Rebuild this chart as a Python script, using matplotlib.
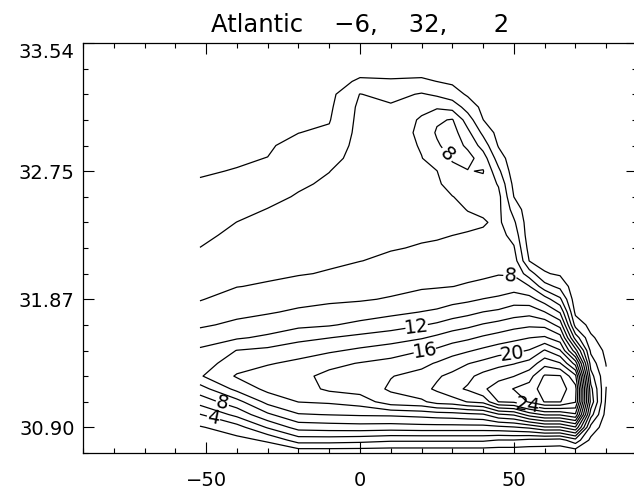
import matplotlib
matplotlib.use("Agg")
import numpy as np
import matplotlib.pyplot as plt
from matplotlib.ticker import FixedLocator, MultipleLocator


# ---------------------------------------------------------------------
# Data
# ---------------------------------------------------------------------

# longitude of each column of the section
lon = [-52, -40, -30, -20, -10, 0, 10, 20, 25, 30, 35, 40, 45, 50, 55, 60, 65, 70, 75, 80]

# row position on the stretched density axis (bottom -> top)
row = [0, 0.5, 1, 1.5, 2, 2.5, 3, 3.5, 4, 4.5, 5, 5.5, 6, 6.5, 7, 7.5, 8,
       8.5, 9, 9.5, 10, 10.5, 11, 11.5, 12, 12.5, 13, 13.5, 14, 14.5, 15, 15.5, 16]

sigma_tick_rows = [1, 6, 11, 16]
sigma_tick_labels = ["30.90", "31.87", "32.75", "33.54"]

# field values per longitude column, bottom -> top
z_m52 = [0.5, 1.1, 1.8, 3.9, 6.8, 9.1, 11.8, 11.0, 10.3, 9.0, 7.7, 6.7, 5.9, 5.4, 4.9, 4.5, 4.02,
         3.6, 3.2, 2.9, 2.5, 2.1, 1.9, 1.8, 1.6, 1.5, 1.3, 1.2, 1.0, 0.9, 0.8, 0.6, 0.5]
z_m40 = [0.5, 1.41, 3.15, 6.6, 9.3, 12.6, 14.2, 13.1, 12.05, 9.77, 8.42, 7.47, 6.69, 5.96, 5.57, 5.18, 4.79,
         4.41, 4.02, 3.53, 3.04, 2.55, 2.05, 1.87, 1.71, 1.56, 1.41, 1.26, 1.11, 0.96, 0.8, 0.65, 0.5]
z_m30 = [0.5, 2.27, 6.2, 9.64, 12.64, 14.52, 14.97, 13.83, 12.48, 10.36, 8.95, 7.82, 7.0, 6.17, 5.73, 5.39, 5.06,
         4.72, 4.38, 4.05, 3.56, 3.05, 2.54, 2.02, 1.84, 1.67, 1.5, 1.34, 1.17, 1.0, 0.84, 0.67, 0.5]
z_m20 = [0.5, 4.93, 8.8, 11.85, 14.05, 15.06, 15.5, 14.44, 13.13, 11.42, 9.52, 8.3, 7.38, 6.55, 5.9, 5.61, 5.31,
         5.02, 4.73, 4.43, 4.14, 3.77, 3.32, 2.88, 2.44, 1.98, 1.79, 1.57, 1.36, 1.15, 0.93, 0.72, 0.5]
z_m10 = [0.5, 4.93, 9.02, 12.07, 14.3, 16.37, 16.49, 15.49, 13.68, 11.96, 9.82, 8.65, 7.66, 6.88, 6.11, 5.78, 5.52,
         5.27, 5.01, 4.76, 4.5, 4.24, 3.97, 3.4, 2.84, 2.27, 1.88, 1.65, 1.42, 1.19, 0.96, 0.73, 0.5]
z_0 = [0.5, 4.72, 9.15, 12.25, 14.91, 16.84, 17.07, 16.1, 14.37, 12.54, 10.5, 8.97, 7.82, 7.2, 6.58, 5.97, 5.8,
       5.61, 5.42, 5.24, 5.05, 4.86, 4.76, 4.71, 4.65, 4.6, 4.54, 4.42, 4.05, 2.28, 1.34, 0.73, 0.5]
z_10 = [0.5, 4.32, 9.03, 12.35, 17.1, 18.28, 17.92, 16.64, 15.02, 13.05, 11.14, 9.49, 8.15, 7.47, 6.87, 6.28, 5.91,
        5.74, 5.57, 5.4, 5.23, 5.06, 4.97, 4.93, 4.89, 4.85, 4.8, 4.27, 3.39, 2.17, 1.34, 0.73, 0.5]
z_20 = [0.5, 4.32, 9.2, 12.69, 17.6, 19.48, 18.66, 17.46, 15.93, 13.82, 11.86, 10.05, 8.74, 7.77, 7.21, 6.65, 6.1,
        5.84, 5.64, 5.45, 5.35, 5.55, 5.74, 5.94, 6.18, 6.44, 6.23, 5.52, 4.17, 2.28, 1.34, 0.73, 0.5]
z_25 = [0.5, 4.32, 9.2, 12.97, 18.8, 20.28, 19.78, 18.18, 16.37, 14.43, 12.33, 10.34, 8.94, 7.86, 7.31, 6.77, 6.22,
        5.86, 5.62, 5.39, 5.46, 5.71, 5.97, 6.86, 7.72, 8.25, 7.72, 5.73, 3.68, 1.99, 1.22, 0.71, 0.5]
z_30 = [0.5, 4.32, 9.2, 13.13, 19.1, 21.47, 20.48, 19.06, 17.17, 15.13, 13.0, 10.95, 9.31, 7.98, 7.48, 6.98, 6.48,
        5.99, 5.68, 5.63, 5.95, 6.72, 7.48, 8.2, 8.95, 8.84, 8.15, 5.26, 2.88, 1.68, 1.0, 0.64, 0.5]
z_35 = [0.5, 4.32, 9.2, 13.47, 20.1, 22.23, 21.53, 19.9, 17.77, 15.63, 13.5, 11.42, 9.6, 8.18, 7.58, 7.09, 6.61,
        6.13, 5.66, 6.05, 6.52, 7.05, 7.91, 8.69, 7.63, 6.52, 5.03, 3.14, 1.74, 1.13, 0.74, 0.62, 0.5]
z_40 = [0.5, 4.32, 9.2, 13.76, 20.6, 23.7, 22.65, 20.57, 18.43, 16.3, 14.17, 12.03, 10.06, 8.45, 7.67, 7.21, 6.76,
        6.3, 5.82, 6.33, 6.91, 7.49, 8.12, 7.02, 5.17, 3.53, 2.02, 1.5, 0.98, 0.75, 0.67, 0.58, 0.5]
z_45 = [0.5, 3.92, 9.44, 15.7, 24.04, 24.9, 23.42, 21.35, 19.1, 16.87, 14.67, 12.4, 10.37, 8.91, 7.88, 7.51, 7.13,
        6.76, 6.4, 6.49, 6.59, 5.81, 4.46, 3.01, 1.83, 1.32, 0.8, 0.75, 0.7, 0.65, 0.6, 0.55, 0.5]
z_50 = [0.5, 3.92, 9.8, 16.27, 24.36, 26.1, 23.95, 21.88, 19.48, 17.47, 15.27, 13.03, 11.1, 9.08, 7.75, 6.97, 6.19,
        5.29, 4.34, 3.22, 1.98, 1.43, 0.86, 0.78, 0.75, 0.73, 0.7, 0.67, 0.64, 0.6, 0.57, 0.53, 0.5]
z_55 = [0.5, 3.52, 10.4, 18.93, 26.28, 26.8, 25.24, 22.68, 20.12, 17.96, 15.64, 13.31, 10.76, 8.12, 4.95, 1.95, 1.25,
        0.79, 0.78, 0.76, 0.74, 0.72, 0.7, 0.68, 0.66, 0.64, 0.62, 0.6, 0.58, 0.56, 0.54, 0.52, 0.5]
z_60 = [0.5, 3.4, 11.73, 20.27, 28.1, 29.12, 28.26, 25.28, 22.17, 18.27, 15.43, 12.05, 8.96, 4.8, 2.16, 1.37, 0.8,
        0.78, 0.76, 0.74, 0.72, 0.7, 0.68, 0.66, 0.64, 0.62, 0.6, 0.58, 0.56, 0.54, 0.52, 0.51, 0.5]
z_65 = [0.5, 3.2, 11.73, 20.27, 28.1, 28.93, 28.16, 24.16, 20.17, 16.8, 13.25, 9.8, 6.4, 3.43, 1.72, 0.85, 0.8,
        0.78, 0.76, 0.74, 0.72, 0.7, 0.68, 0.66, 0.64, 0.62, 0.6, 0.58, 0.56, 0.54, 0.52, 0.51, 0.5]
z_70 = [0.5, 5.2, 13.73, 21.7, 26.18, 26.75, 24.48, 19.2, 12.8, 7.12, 3.25, 1.53, 0.8, 0.78, 0.76, 0.74, 0.72,
        0.7, 0.68, 0.66, 0.64, 0.62, 0.6, 0.58, 0.56, 0.55, 0.54, 0.53, 0.52, 0.51, 0.5, 0.5, 0.5]
z_75 = [0.5, 1.5, 3.31, 6.85, 9.37, 8.62, 6.83, 5.12, 3.56, 2.28, 1.4, 0.79, 0.77, 0.76, 0.74, 0.72, 0.7,
        0.68, 0.66, 0.64, 0.62, 0.6, 0.58, 0.57, 0.56, 0.55, 0.54, 0.53, 0.52, 0.51, 0.5, 0.5, 0.5]
z_80 = [0.5, 0.69, 0.89, 1.16, 1.55, 1.94, 2.29, 1.9, 1.52, 1.18, 1.05, 0.92, 0.8, 0.78, 0.76, 0.74, 0.72,
        0.7, 0.68, 0.66, 0.64, 0.62, 0.6, 0.58, 0.57, 0.56, 0.55, 0.54, 0.53, 0.52, 0.51, 0.5, 0.5]

contour_levels = [2, 4, 6, 8, 10, 12, 14, 16, 18, 20, 22, 24, 26, 28]
label_levels = [8, 8, 12, 16, 20, 24, 8, 4]

title_text = "Atlantic    \u22126,    32,      2"


# ---------------------------------------------------------------------
# Plot
# ---------------------------------------------------------------------

columns = [z_m52, z_m40, z_m30, z_m20, z_m10, z_0, z_10, z_20, z_25, z_30,
           z_35, z_40, z_45, z_50, z_55, z_60, z_65, z_70, z_75, z_80]
field = np.column_stack([np.array(c) for c in columns])

plt.rcParams["font.family"] = ["DejaVu Sans"]

fig = plt.figure(figsize=(6.34, 4.94), dpi=100)
ax = fig.add_axes([83 / 634, 41 / 494, 554 / 634, 410 / 494])

# one contour set per level, so each label can be put on its own level
level_sets = {}
for lev in contour_levels:
    level_sets[lev] = ax.contour(lon, row, field, levels=[lev], colors="black",
                                 linewidths=0.9)

# label spots, in data coordinates (layout only)
label_spots = [(28.2, 11.64), (48.7, 6.76), (18.5, 4.8), (21.1, 3.95),
               (49.7, 3.71), (54.5, 1.8), (-44.8, 1.88), (-47.7, 1.29)]
for lev, spot in zip(label_levels, label_spots):
    level_sets[lev].clabel(manual=[spot], fmt="%d", fontsize=14,
                           inline=True, inline_spacing=3)

ax.set_xlim(-90, 90)
ax.set_ylim(0, 16)

ax.xaxis.set_major_locator(FixedLocator([-50, 0, 50]))
ax.xaxis.set_minor_locator(MultipleLocator(10))
ax.yaxis.set_major_locator(FixedLocator(sigma_tick_rows))
ax.yaxis.set_minor_locator(MultipleLocator(1))
ax.set_yticklabels(sigma_tick_labels)

ax.tick_params(which="both", direction="in", top=True, right=True, width=0.8)
ax.tick_params(which="major", length=8)
ax.tick_params(which="minor", length=3.6)
ax.tick_params(axis="x", which="major", labelsize=14, pad=13)
ax.tick_params(axis="y", which="major", labelsize=14, pad=6)

for spine in ax.spines.values():
    spine.set_linewidth(0.9)

ax.yaxis.get_major_ticks()[-1].label1.set_verticalalignment("top")

ax.set_title(title_text, fontsize=17.5, pad=8)

fig.savefig("out.png", dpi=100)
